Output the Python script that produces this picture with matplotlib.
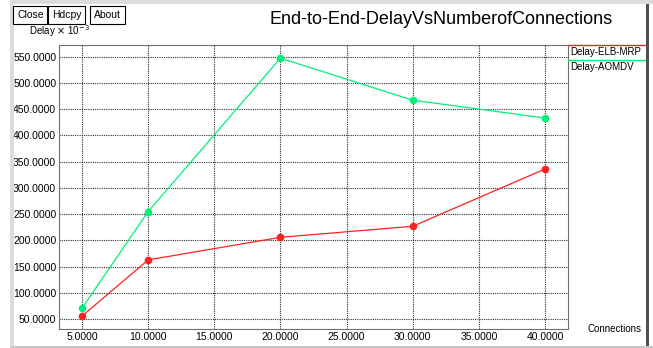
import matplotlib.pyplot as plt
from matplotlib.patches import Rectangle
from matplotlib.lines import Line2D

connections = [5, 10, 20, 30, 40]
delay_elb_mrp = [56, 163, 206, 227, 336]
delay_aomdv = [71, 255, 547, 467, 433]
series_names = ['Delay-ELB-MRP', 'Delay-AOMDV']
x_ticks = [5, 10, 15, 20, 25, 30, 35, 40]
y_ticks = [50, 100, 150, 200, 250, 300, 350, 400, 450, 500, 550]

plt.rcParams['font.family'] = ['Liberation Sans', 'DejaVu Sans']

W, H = 653, 348
fig = plt.figure(figsize=(W / 100, H / 100), dpi=100)
fig.patch.set_facecolor('white')

# window frame (grey bars at top and left, dark edge at right)
fig.patches.append(Rectangle((10 / W, 1 - 4 / H), 1 - 10 / W, 4 / H, transform=fig.transFigure,
                             facecolor='#dcdcdc', edgecolor='none'))
fig.patches.append(Rectangle((10 / W, 0), 4 / W, 1, transform=fig.transFigure,
                             facecolor='#dcdcdc', edgecolor='none'))
fig.patches.append(Rectangle((646 / W, 0), 3 / W, 1 - 4 / H, transform=fig.transFigure,
                             facecolor='#505050', edgecolor='none'))
fig.patches.append(Rectangle((10 / W, 0), 1 - 10 / W, 2 / H, transform=fig.transFigure,
                             facecolor='#c8c8c8', edgecolor='none'))

ax = fig.add_axes([59 / W, 1 - 329 / H, (568 - 59) / W, (329 - 45) / H])
ax.set_xlim(3.26, 41.74)
ax.set_ylim(31.5, 572)

for xv in x_ticks:
    ax.axvline(xv, color='#303030', linestyle=(0, (1, 1)), linewidth=0.8, zorder=1)
for yv in y_ticks:
    ax.axhline(yv, color='#303030', linestyle=(0, (1, 1)), linewidth=0.8, zorder=1)

ax.plot(connections, delay_elb_mrp, color='#ff2020', linewidth=0.9, marker='o',
        markersize=4.5, zorder=3)
ax.plot(connections, delay_aomdv, color='#00f07a', linewidth=0.9, marker='o',
        markersize=4.5, zorder=3)

for s in ax.spines.values():
    s.set_color('#707070')
    s.set_linestyle((0, (1, 1)))
    s.set_linewidth(0.8)

ax.set_xticks(x_ticks)
ax.set_xticklabels(['%.4f' % v for v in x_ticks])
ax.set_yticks(y_ticks)
ax.set_yticklabels(['%.4f' % v for v in y_ticks])
ax.tick_params(length=0, labelsize=7.5, pad=2)

# toolbar buttons
for label, xp in [('Close', 17), ('Hdcpy', 52), ('About', 94)]:
    fig.text(xp / W, 1 - 15 / H, label, fontsize=7.5, va='center', ha='left',
             bbox=dict(boxstyle='square,pad=0.35', facecolor='white', edgecolor='black', linewidth=0.8))

fig.text(441 / W, 1 - 19 / H, 'End-to-End-DelayVsNumberofConnections', fontsize=13,
         ha='center', va='center')
fig.text(29 / W, 1 - 31 / H, r'Delay $\times$ 10$^{-3}$', fontsize=7, ha='left', va='center')
fig.text(588 / W, 1 - 329 / H, 'Connections', fontsize=7, ha='left', va='center')

# legend entries on the right
legend_colors = ['#ff2020', '#00f07a']
for i, (name, c) in enumerate(zip(series_names, legend_colors)):
    ly = 45 + i * 14.5
    fig.lines.append(Line2D([568 / W, 645 / W], [1 - ly / H, 1 - ly / H], color=c,
                            linewidth=1, transform=fig.transFigure))
    fig.text(570 / W, 1 - (ly + 7) / H, name, fontsize=7, ha='left', va='center')

fig.savefig('out.png', dpi=100)
